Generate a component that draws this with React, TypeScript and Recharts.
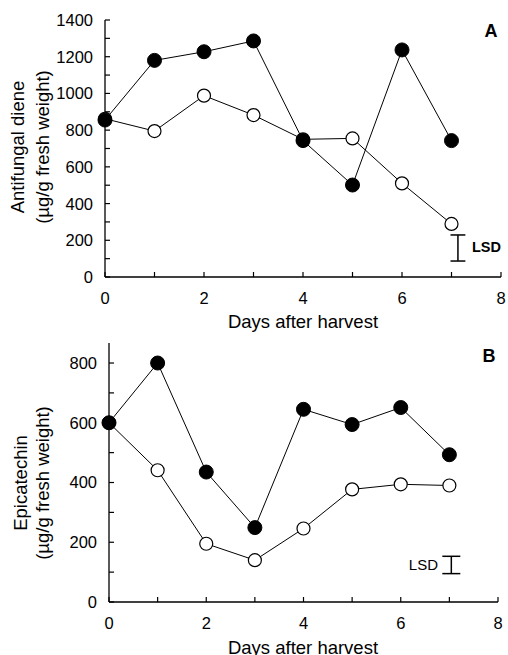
import { LineChart, Line, XAxis, YAxis, ReferenceLine } from "recharts";

const days = [0, 1, 2, 3, 4, 5, 6, 7];
const xTicks = [0, 1, 2, 3, 4, 5, 6, 7, 8];

// panel A: antifungal diene (µg/g fresh weight)
const dieneFilled = [855, 1180, 1227, 1286, 743, 501, 1237, 743];
const dieneOpen = [862, 795, 988, 882, 750, 755, 510, 289];
const dieneTicks = [0, 100, 200, 300, 400, 500, 600, 700, 800, 900, 1000, 1100, 1200, 1300, 1400];
const dieneLsd = { x: 7.13, low: 87, high: 229, cap: 0.15 };

// panel B: epicatechin (µg/g fresh weight)
const epiFilled = [600, 800, 435, 249, 645, 594, 651, 493];
const epiOpen = [600, 441, 195, 140, 246, 377, 394, 390];
const epiTicks = [0, 100, 200, 300, 400, 500, 600, 700, 800];
const epiLsd = { x: 7.04, low: 95, high: 153, cap: 0.185 };

const FONT = "'Liberation Sans', Arial, Helvetica, sans-serif";

const dieneData = days.map((d, i) => ({ day: d, filled: dieneFilled[i], open: dieneOpen[i] }));
const epiData = days.map((d, i) => ({ day: d, filled: epiFilled[i], open: epiOpen[i] }));

const XTick = (props: any) => {
  const { x, y, payload } = props;
  return (
    <g>
      <line x1={x} x2={x} y1={y} y2={y - 5} stroke="#000" strokeWidth={1.2} />
      {payload.value % 2 === 0 && (
        <text x={x} y={y + 27} textAnchor="middle" fontSize={16.5} fontFamily={FONT} fill="#000">
          {payload.value}
        </text>
      )}
    </g>
  );
};

const YTick = (props: any) => {
  const { x, y, payload } = props;
  return (
    <g>
      <line x1={x} x2={x + 5} y1={y} y2={y} stroke="#000" strokeWidth={1.2} />
      {payload.value % 200 === 0 && (
        <text x={x - 12} y={y} dy="0.36em" textAnchor="end" fontSize={16.5} fontFamily={FONT} fill="#000">
          {payload.value}
        </text>
      )}
    </g>
  );
};

const filledDot = { r: 7, fill: "#000", stroke: "#000", strokeWidth: 1 };
const openDot = { r: 6.5, fill: "#fff", stroke: "#000", strokeWidth: 1.2 };

function lsdSegments(l: { x: number; low: number; high: number; cap: number }) {
  return [
    [{ x: l.x, y: l.low }, { x: l.x, y: l.high }],
    [{ x: l.x - l.cap, y: l.high }, { x: l.x + l.cap, y: l.high }],
    [{ x: l.x - l.cap, y: l.low }, { x: l.x + l.cap, y: l.low }],
  ];
}

function Panel({ data, ticks, domain, lsd, width, height, margin, yWidth, xHeight }: any) {
  return (
    <LineChart width={width} height={height} data={data} margin={margin}>
      <XAxis
        dataKey="day"
        type="number"
        domain={[0, 8]}
        ticks={xTicks}
        interval={0}
        height={xHeight}
        tickSize={0}
        tickMargin={0}
        tickLine={false}
        axisLine={{ stroke: "#000", strokeWidth: 1.3 }}
        tick={<XTick />}
      />
      <YAxis
        type="number"
        domain={domain}
        ticks={ticks}
        interval={0}
        width={yWidth}
        tickSize={0}
        tickMargin={0}
        tickLine={false}
        allowDataOverflow
        axisLine={{ stroke: "#000", strokeWidth: 1.3 }}
        tick={<YTick />}
      />
      {lsdSegments(lsd).map((seg, i) => (
        <ReferenceLine key={i} segment={seg} stroke="#000" strokeWidth={1.5} />
      ))}
      <Line dataKey="open" type="linear" stroke="#000" strokeWidth={1} dot={openDot} isAnimationActive={false} />
      <Line dataKey="filled" type="linear" stroke="#000" strokeWidth={1} dot={filledDot} isAnimationActive={false} />
    </LineChart>
  );
}

export default function App() {
  return (
    <div style={{ position: "absolute", left: 0, top: 0, width: 508, height: 655, background: "#fff", fontFamily: FONT }}>
      <div style={{ position: "absolute", left: 0, top: 0 }}>
        <Panel
          data={dieneData}
          ticks={dieneTicks}
          domain={[0, 1400]}
          lsd={dieneLsd}
          width={508}
          height={310}
          margin={{ top: 20, right: 7, bottom: 3, left: 0 }}
          yWidth={105}
          xHeight={30}
        />
      </div>
      <div style={{ position: "absolute", left: 0, top: 330 }}>
        <Panel
          data={epiData}
          ticks={epiTicks}
          domain={[0, 867]}
          lsd={epiLsd}
          width={508}
          height={310}
          margin={{ top: 13, right: 10, bottom: 3, left: 0 }}
          yWidth={109}
          xHeight={35}
        />
      </div>
      <svg width={508} height={655} style={{ position: "absolute", left: 0, top: 0, pointerEvents: "none" }}>
        <g fontFamily={FONT} fill="#000">
          <text transform="translate(18,147) rotate(-90)" textAnchor="middle" dy="0.35em" fontSize={18.5}>
            Antifungal diene
          </text>
          <text transform="translate(43,147) rotate(-90)" textAnchor="middle" dy="0.35em" fontSize={18.5}>
            (µg/g fresh weight)
          </text>
          <text x={303} y={322} textAnchor="middle" dy="0.35em" fontSize={18.5}>
            Days after harvest
          </text>
          <text x={491} y={31} textAnchor="middle" dy="0.35em" fontSize={18} fontWeight="bold">
            A
          </text>
          <text x={472} y={247} dy="0.35em" fontSize={14.5} fontWeight="bold">
            LSD
          </text>

          <text transform="translate(21,483) rotate(-90)" textAnchor="middle" dy="0.35em" fontSize={18.5}>
            Epicatechin
          </text>
          <text transform="translate(43,483) rotate(-90)" textAnchor="middle" dy="0.35em" fontSize={18.5}>
            (µg/g fresh weight)
          </text>
          <text x={303} y={648} textAnchor="middle" dy="0.35em" fontSize={18.5}>
            Days after harvest
          </text>
          <text x={489} y={356} textAnchor="middle" dy="0.35em" fontSize={18} fontWeight="bold">
            B
          </text>
          <text x={438} y={565} textAnchor="end" dy="0.35em" fontSize={15}>
            LSD
          </text>
        </g>
      </svg>
    </div>
  );
}
